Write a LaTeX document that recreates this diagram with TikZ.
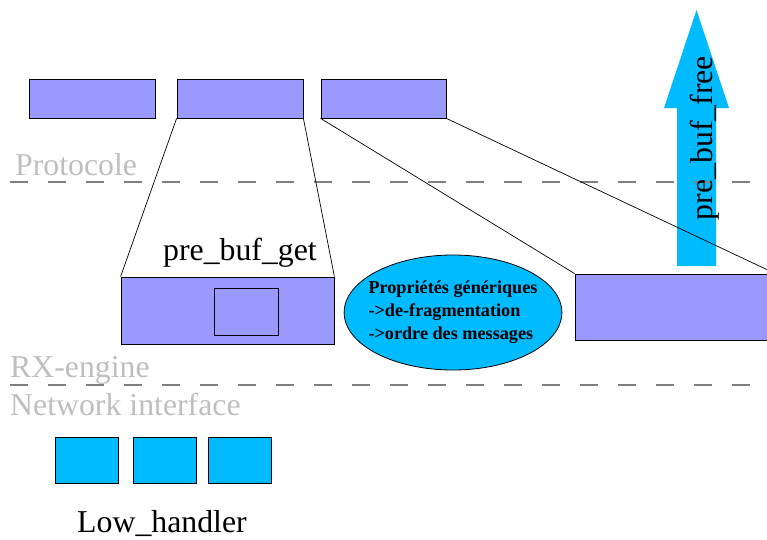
\documentclass[tikz,border=0pt]{standalone}
\usepackage{fontspec}
\setmainfont{Liberation Serif}
\usetikzlibrary{shapes.geometric}
\definecolor{bufblue}{HTML}{9999FF}
\definecolor{skyblue}{HTML}{00BBFF}
\tikzset{buffer/.style={draw=black, fill=bufblue, line width=0.8pt, inner sep=0pt},
    handler/.style={draw=black, fill=skyblue, line width=1pt, inner sep=0pt,
        minimum width=63pt, minimum height=46pt},
    layer/.style={text=black!25, anchor=base west, inner sep=0pt},
    layerline/.style={draw=black!50, line width=2pt, dash pattern=on 18pt off 20pt},
    zoomline/.style={draw=black, line width=0.7pt},
    }
\begin{document}
\begin{tikzpicture}[x=1pt, y=-1pt, font=\fontsize{31.8}{38}\selectfont]
	\clip (0,0) rectangle (767,539);
	% buffers of the protocol
	\node[buffer, minimum width=126pt, minimum height=39pt] (protoA) at (92,98.5) {};
	\node[buffer, minimum width=126pt, minimum height=39pt] (protoB) at (240,98.5) {};
	\node[buffer, minimum width=125pt, minimum height=39pt] (protoC) at (383.5,98.5) {};
	% pre_buf_free
	\fill[skyblue] (677,266) -- (677,108) -- (664,108) -- (696.5,10) -- (729,108)
		-- (716,108) -- (716,266) -- cycle;
	% RX-engine
	\node[buffer, minimum width=213pt, minimum height=67pt] (rxGet) at (227.5,310.5) {};
	\node[buffer, minimum width=64pt, minimum height=47pt] (rxSlot) at (246,311.5) {};
	\node[buffer, minimum width=200pt, minimum height=66pt] (rxFree) at (675,307) {};
	\node[ellipse, draw=black, fill=skyblue, line width=0.8pt, inner xsep=-7.5pt, inner ysep=0pt,
		minimum width=216pt, minimum height=115pt, align=left,
		font=\fontsize{18.2}{23}\selectfont\bfseries] (props) at (453,312.5)
		{Propriétés génériques\\->de-fragmentation\\->ordre des messages};
	% network interface
	\node[handler] (lowA) at (86.5,460) {};
	\node[handler] (lowB) at (164.5,460) {};
	\node[handler] (lowC) at (239.5,460) {};
	% layers
	\draw[layerline] (10,182) -- (767,182);
	\draw[layerline] (10,385) -- (767,385);
	\node[layer] (protocole) at (15,175) {Protocole};
	\node[layer] (rxengine) at (10,377) {RX-engine};
	\node[layer] (netif) at (10,415) {Network interface};
	\draw[zoomline] (protoB.south west) -- (rxGet.north west);
	\draw[zoomline] (protoB.south east) -- (rxGet.north east);
	\draw[zoomline] (protoC.south west) -- (rxFree.north west);
	\draw[zoomline] (protoC.south east) -- (rxFree.north east);
	\node[anchor=base, inner sep=0pt] (get) at (240,260) {pre\_buf\_get};
	\node[anchor=base, inner sep=0pt, rotate=90] (free) at (712,138) {pre\_buf\_free};
	\node[anchor=base, inner sep=0pt] (low) at (162,532) {Low\_handler};
\end{tikzpicture}
\end{document}
